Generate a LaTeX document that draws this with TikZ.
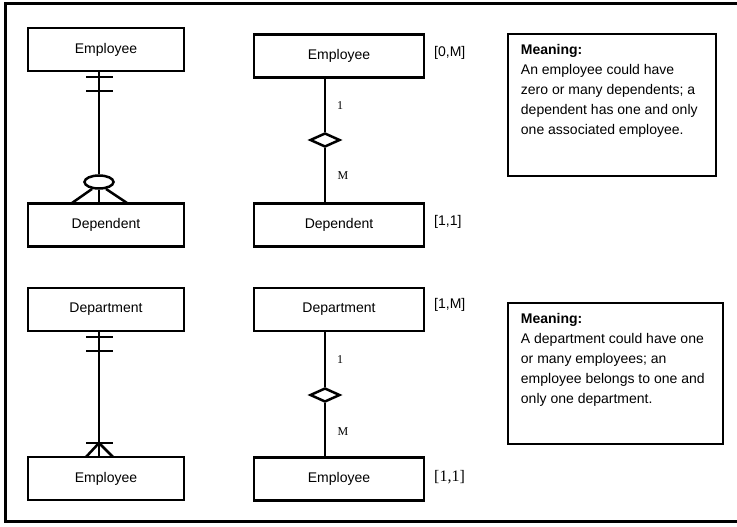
\documentclass[tikz,border=0pt]{standalone}
\usepackage{fontspec}
\setmainfont{Liberation Sans}
\newfontfamily\timesfont{Liberation Serif}
\usetikzlibrary{shapes.geometric, positioning}

\begin{document}
\begin{tikzpicture}[x=1pt, y=-1pt]
    \tikzstyle{entbox}   = [rectangle, minimum height=43pt, text centered, draw=black, line width=2.5pt, font=\fontsize{14}{16}\selectfont]
    \tikzstyle{entL}     = [entbox, minimum width=156pt]
    \tikzstyle{entM}     = [entbox, minimum width=170pt]
    \tikzstyle{linkline} = [line width=2.5pt]
    \tikzstyle{tickline} = [line width=2.5pt]
    \tikzstyle{relbox}   = [diamond, aspect=2.1, minimum width=30pt, minimum height=14pt, inner sep=0pt, draw=black, fill=white, line width=2.5pt]
    \tikzstyle{cardlbl}  = [inner sep=0pt, font=\timesfont\fontsize{12}{14}\selectfont]
    \tikzstyle{rangelbl} = [anchor=west, inner sep=0pt, font=\fontsize{14}{16}\selectfont]
    \tikzstyle{meanbox}  = [rectangle, draw=black, line width=2.5pt]
    \tikzstyle{notetxt}  = [align=left, inner sep=0pt, font=\fontsize{14}{20}\selectfont]
    \useasboundingbox (0,0) rectangle (737,527);
    % outer frame
    \draw[line width=3pt] (737,4) -- (5,4) -- (5,521) -- (737,521);
    % columns of the connectors
    \coordinate (colL) at (99,0);
    \coordinate (colM) at (325,0);

    % --- Employee / Dependent ---
    \node (empA) [entL] at (106,49.5) {Employee};
    \node (depA) [entL] at (106,225)  {Dependent};
    \node (oval) [ellipse, minimum width=29pt, minimum height=13pt, inner sep=0pt, draw=black, line width=2.5pt] at (99,182) {};
    \draw[linkline] (empA.south -| colL) -- (oval.north);
    \draw[linkline] (oval.south) -- (depA.north -| colL);
    \draw[tickline] (86,77) -- (113,77);
    \draw[tickline] (86,91) -- (113,91);
    \draw[tickline] (oval.225) -- (72,203);
    \draw[tickline] (oval.-45) -- (127,203);

    \node (empB) [entM] at (339,56)  {Employee};
    \node (depB) [entM] at (339,225) {Dependent};
    \node (relA) [relbox] at (325,140) {};
    \draw[linkline] (empB.south -| colM) -- (relA.north);
    \draw[linkline] (relA.south) -- (depB.north -| colM);
    \node (oneA)  [cardlbl] at (340,106) {1};
    \node (manyA) [cardlbl] at (343,176) {M};
    \node (rgA) [rangelbl] at (434,53)  {[0,M]};
    \node (rgB) [rangelbl] at (434,222) {[1,1]};

    \node (meanA) [meanbox, minimum width=208pt, minimum height=142pt] at (612,105) {};
    \node (txtA) [notetxt, below right=11pt and 14pt of meanA.north west]
        {\textbf{Meaning:}\\ An employee could have\\ zero or many dependents; a\\ dependent has one and only\\ one associated employee.};

    % --- Department / Employee ---
    \node (depC) [entL] at (106,309.5) {Department};
    \node (empC) [entL] at (106,478.5) {Employee};
    \draw[linkline] (depC.south -| colL) -- (empC.north -| colL);
    \draw[tickline] (86,337) -- (113,337);
    \draw[tickline] (86,351) -- (113,351);
    \draw[tickline] (86,443) -- (113,443);
    \draw[tickline] (99,443) -- (86,457);
    \draw[tickline] (99,443) -- (113,457);

    \node (depD) [entM] at (339,309.5) {Department};
    \node (empD) [entM] at (339,479)   {Employee};
    \node (relB) [relbox] at (325,395) {};
    \draw[linkline] (depD.south -| colM) -- (relB.north);
    \draw[linkline] (relB.south) -- (empD.north -| colM);
    \node (oneB)  [cardlbl] at (340,360) {1};
    \node (manyB) [cardlbl] at (343,432) {M};
    \node (rgC) [rangelbl] at (434,305) {[1,M]};
    \node (rgD) [rangelbl, font=\timesfont\fontsize{16}{18}\selectfont] at (434,477) {[1,1]};

    \node (meanB) [meanbox, minimum width=215pt, minimum height=141pt] at (615.5,373.5) {};
    \node (txtB) [notetxt, below right=11pt and 14pt of meanB.north west]
        {\textbf{Meaning:}\\ A department could have one\\ or many employees; an\\ employee belongs to one and\\ only one department.};
\end{tikzpicture}
\end{document}
